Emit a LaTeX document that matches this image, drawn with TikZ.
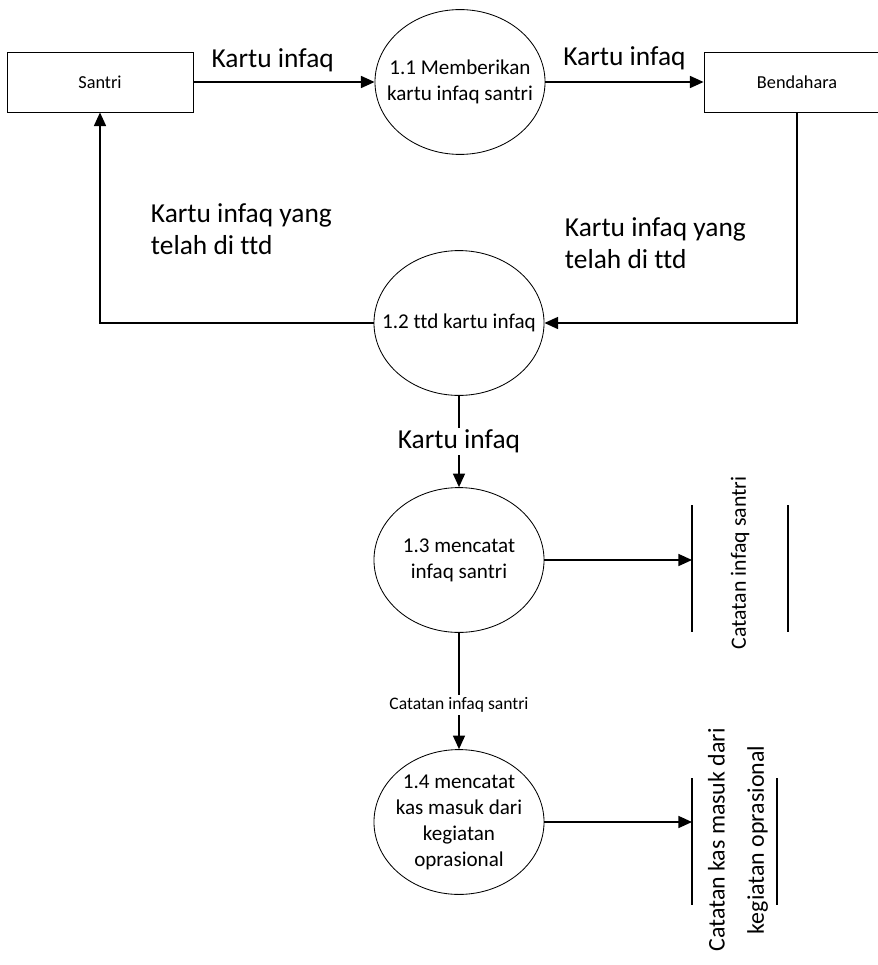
\documentclass[tikz,border=0pt]{standalone}
\usepackage{fontspec}
\setmainfont{Carlito}[Ligatures={NoCommon}]
\usetikzlibrary{arrows.meta,shapes.geometric}

\tikzset{
  entity/.style={draw, line width=0.6pt, minimum width=4.65cm, minimum height=1.5cm, font=\fontsize{13}{15}\selectfont},
  process/.style={draw, ellipse, line width=0.6pt, minimum width=4.25cm, minimum height=3.62cm, inner sep=0pt},
  proctext/.style={align=center, font=\fontsize{15}{18.5}\selectfont},
  flow/.style={line width=1.1pt, -{Triangle[length=3.4mm,width=3mm]}},
  store/.style={line width=1.3pt},
  biglabel/.style={font=\fontsize{19.5}{23}\selectfont},
  smalllabel/.style={font=\fontsize{12.5}{15}\selectfont}
}

\begin{document}
\begin{tikzpicture}[x=0.025cm,y=-0.025cm]
\useasboundingbox (0,0) rectangle (877,965);

%% entities
\node[entity] (santri) at (100,82) {Santri};
\node[entity] (bendahara) at (797,82) {Bendahara};

%% processes
\node[process, label={[proctext]center:1.1 Memberikan\\kartu infaq santri}] (p1) at (460,82) {};
\node[process, label={[proctext]center:1.2 ttd kartu infaq}] (p2) at (459,323) {};
\node[process, label={[proctext]center:1.3 mencatat\\infaq santri}] (p3) at (459,560) {};
\node[process, label={[proctext]center:1.4 mencatat\\kas masuk dari\\kegiatan\\oprasional}] (p4) at (459,822) {};

%% data stores
\draw[store] (692,505) -- (692,632);
\draw[store] (788,505) -- (788,632);
\node[rotate=90, font=\fontsize{15.5}{19}\selectfont] (d1) at (740,563) {Catatan infaq santri};
\coordinate (s1) at (692,560);

\draw[store] (692,778) -- (692,905);
\draw[store] (777,778) -- (777,905);
\node[rotate=90, align=center, font=\fontsize{17}{28}\selectfont] (d2) at (738,840) {Catatan kas masuk dari\\kegiatan oprasional};
\coordinate (s2) at (692,822);

%%% flows
\draw[flow] (santri) -- node[biglabel, above=3pt, xshift=-8pt] {Kartu infaq} (p1);
\draw[flow] (p1) -- node[biglabel, above=5pt] {Kartu infaq} (bendahara);
\draw[flow] (bendahara.south) |- (p2.east);
\draw[flow] (p2.west) -| (santri.south);
\draw[flow] (p2) -- node[biglabel, fill=white, inner sep=1pt] {Kartu infaq} (p3);
\draw[flow] (p3) -- (s1);
\draw[flow] (p3) -- node[smalllabel, pos=0.62, fill=white, inner sep=2pt] {Catatan infaq santri} (p4);
\draw[flow] (p4) -- (s2);

\node[biglabel, align=left, anchor=west] (l1) at (146,229) {Kartu infaq yang\\telah di ttd};
\node[biglabel, align=left, anchor=west] (l2) at (560,243) {Kartu infaq yang\\telah di ttd};

\end{tikzpicture}
\end{document}
